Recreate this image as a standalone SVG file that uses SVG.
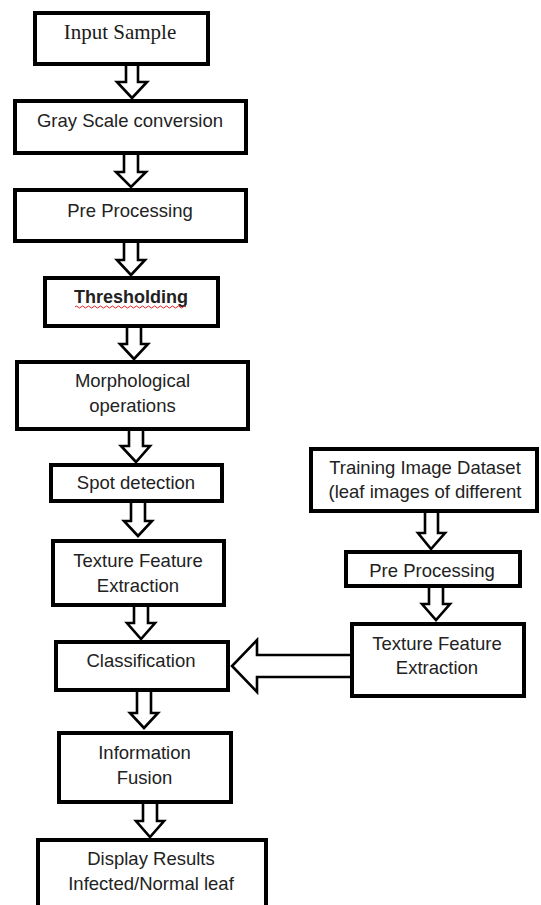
<svg xmlns="http://www.w3.org/2000/svg" width="541" height="905" viewBox="0 0 541 905">
<style>
.box{fill:#fff;stroke:#000;stroke-width:4}
.arr{fill:#fff;stroke:#000;stroke-width:2.6;stroke-linejoin:miter}
.t{font-family:"Liberation Sans",Arial,sans-serif;font-size:18.5px;fill:#222;text-anchor:middle}
.s{font-family:"Liberation Serif","Times New Roman",serif;font-size:21px;fill:#1a1a1a;text-anchor:middle}
.b{font-weight:bold;font-size:18px}
</style>
<rect width="541" height="905" fill="#fff"/>
<g id="connectors">
<path class="arr" d="M126,64 V82 H117 L132,98 L147,82 H138 V64"/>
<path class="arr" d="M124,154 V172 H116 L131,187 L146,172 H138 V154"/>
<path class="arr" d="M124,243 V260 H117 L131,275 L145,260 H138 V243"/>
<path class="arr" d="M127,328 V344 H120 L134,359 L148,344 H141 V328"/>
<path class="arr" d="M129,431 V446 H121 L136,462 L150,446 H143 V431"/>
<path class="arr" d="M131,503 V521 H124 L138,536 L152,521 H145 V503"/>
<path class="arr" d="M134,607 V623 H127 L141,639 L155,623 H148 V607"/>
<path class="arr" d="M137,692 V713 H130 L144,728 L158,713 H151 V692"/>
<path class="arr" d="M143,804 V821 H136 L150,837 L164,821 H157 V804"/>
<path class="arr" d="M425,513 V533 H418 L431,549 L445,533 H438 V513"/>
<path class="arr" d="M429,588 V604 H422 L436,620 L450,604 H443 V588"/>
<path class="arr" d="M352,655 H257 V640 L232,666 L257,692 V677 H352"/>
</g>
<g id="n1"><rect class="box" x="35" y="13" width="173" height="51"/><text class="s" x="120" y="39">Input Sample</text></g>
<g id="n2"><rect class="box" x="15" y="101" width="231" height="52"/><text class="t" x="130" y="127">Gray Scale conversion</text></g>
<g id="n3"><rect class="box" x="15" y="190" width="231" height="51"/><text class="t" x="130" y="217">Pre Processing</text></g>
<g id="n4"><rect class="box" x="45" y="278" width="173" height="48"/><text class="t b" x="131" y="303">Thresholding</text>
<path d="M75,307 q1.5,-2 3,0 t3,0 t3,0 t3,0 t3,0 t3,0 t3,0 t3,0 t3,0 t3,0 t3,0 t3,0 t3,0 t3,0 t3,0 t3,0 t3,0 t3,0 t3,0 t3,0 t3,0 t3,0 t3,0 t3,0 t3,0 t3,0 t3,0 t3,0 t3,0 t3,0 t3,0 t3,0 t3,0 t3,0 t3,0 t3,0 t3,0" fill="none" stroke="#e02020" stroke-width="1"/></g>
<g id="n5"><rect class="box" x="17" y="362" width="231" height="67"/><text class="t" x="132.5" y="387">Morphological</text><text class="t" x="132.5" y="412">operations</text></g>
<g id="n6"><rect class="box" x="51" y="465" width="171" height="36"/><text class="t" x="136" y="489">Spot detection</text></g>
<g id="n7"><rect class="box" x="53" y="541" width="171" height="64"/><text class="t" x="138" y="567">Texture Feature</text><text class="t" x="138" y="592">Extraction</text></g>
<g id="n8"><rect class="box" x="56" y="642" width="172" height="48"/><text class="t" x="141" y="667">Classification</text></g>
<g id="n9"><rect class="box" x="59" y="733" width="172" height="69"/><text class="t" x="144.5" y="759">Information</text><text class="t" x="144.5" y="784">Fusion</text></g>
<g id="n10"><rect class="box" x="38" y="840" width="228" height="80"/><text class="t" x="151" y="865">Display Results</text><text class="t" x="151" y="890">Infected/Normal leaf</text></g>
<g id="r1"><rect class="box" x="311" y="449" width="226" height="62"/><text class="t" x="425" y="474">Training Image Dataset</text><text class="t" x="425" y="498">(leaf images of different</text></g>
<g id="r2"><rect class="box" x="346" y="552" width="174" height="34"/><text class="t" x="432" y="577">Pre Processing</text></g>
<g id="r3"><rect class="box" x="352" y="624" width="172" height="72"/><text class="t" x="437" y="650">Texture Feature</text><text class="t" x="437" y="674">Extraction</text></g>
</svg>
